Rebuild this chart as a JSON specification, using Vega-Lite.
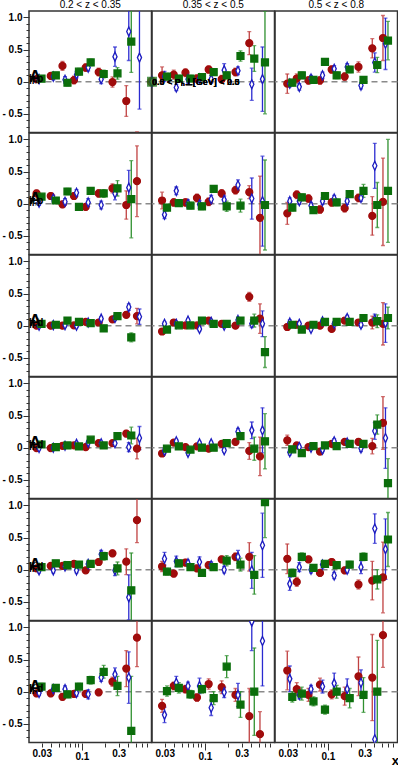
{
"$schema":"https://vega.github.io/schema/vega-lite/v6.json",
"padding":{"left":1,"right":2,"top":0,"bottom":0},
"bounds":"flush",
"title":{"text":"x","orient":"bottom","anchor":"end","fontSize":13,"fontWeight":"bold","font":"Liberation Sans","offset":-6},
"config":{"font":"Liberation Sans","mark":{"invalid":null},"view":{"stroke":"#333","strokeWidth":1.5},
"axis":{"labelFont":"Liberation Sans","labelFontWeight":"bold","labelFontSize":10,"domain":false,"grid":false,"tickColor":"#333","labelColor":"#000"}},
"data":{"values":[
{"p":1,"z":1,"lab":"π⁺","sub":"||,p"},{"p":2,"z":1,"lab":"π⁻","sub":"||,p"},{"p":3,"z":1,"lab":"π⁺","sub":"||,d"},{"p":4,"z":1,"lab":"π⁻","sub":"||,d"},{"p":5,"z":1,"lab":"K⁺","sub":"||,d"},{"p":6,"z":1,"lab":"K⁻","sub":"||,d"},
{"p":1,"z":2,"leg":"yes"},
{"p":1,"z":1,"s":"a","x":0.0257,"y":0.04,"e":0.05},{"p":1,"z":1,"s":"a","x":0.0393,"y":0.09,"e":0.05},{"p":1,"z":1,"s":"a","x":0.0558,"y":0.245,"e":0.07},{"p":1,"z":1,"s":"a","x":0.0787,"y":0.026,"e":0.06},{"p":1,"z":1,"s":"a","x":0.1117,"y":0.22,"e":0.06},{"p":1,"z":1,"s":"a","x":0.1648,"y":0.15,"e":0.06},{"p":1,"z":1,"s":"a","x":0.249,"y":-0.005,"e":0.08},{"p":1,"z":1,"s":"a","x":0.3762,"y":-0.3,"e":0.24},{"p":1,"z":1,"s":"a","x":0.518,"y":-1.2,"e":0.42},
{"p":1,"z":1,"s":"b","x":0.0277,"y":0.04,"e":0.04},{"p":1,"z":1,"s":"b","x":0.0424,"y":0.08,"e":0.05},{"p":1,"z":1,"s":"b","x":0.0602,"y":0.03,"e":0.05},{"p":1,"z":1,"s":"b","x":0.0849,"y":0.11,"e":0.05},{"p":1,"z":1,"s":"b","x":0.1204,"y":0.22,"e":0.05},{"p":1,"z":1,"s":"b","x":0.1776,"y":0.04,"e":0.07},{"p":1,"z":1,"s":"b","x":0.2683,"y":0.39,"e":0.15},{"p":1,"z":1,"s":"b","x":0.4055,"y":0.78,"e":0.45},{"p":1,"z":1,"s":"b","x":0.5583,"y":0.375,"e":0.8},
{"p":1,"z":1,"s":"c","x":0.0298,"y":0.047,"e":0.04},{"p":1,"z":1,"s":"c","x":0.0457,"y":0.1,"e":0.04},{"p":1,"z":1,"s":"c","x":0.0648,"y":-0.016,"e":0.05},{"p":1,"z":1,"s":"c","x":0.0914,"y":0.156,"e":0.05},{"p":1,"z":1,"s":"c","x":0.1297,"y":0.3,"e":0.05},{"p":1,"z":1,"s":"c","x":0.1914,"y":0.12,"e":0.06},{"p":1,"z":1,"s":"c","x":0.2892,"y":0.13,"e":0.09},{"p":1,"z":1,"s":"c","x":0.4369,"y":0.625,"e":0.48},
{"p":1,"z":2,"s":"a","x":0.0277,"y":0.1,"e":0.13},{"p":1,"z":2,"s":"a","x":0.0393,"y":0.11,"e":0.07},{"p":1,"z":2,"s":"a","x":0.0558,"y":0.14,"e":0.06},{"p":1,"z":2,"s":"a","x":0.0787,"y":0.05,"e":0.06},{"p":1,"z":2,"s":"a","x":0.1117,"y":0.19,"e":0.06},{"p":1,"z":2,"s":"a","x":0.1648,"y":0.04,"e":0.06},{"p":1,"z":2,"s":"a","x":0.249,"y":0.15,"e":0.06},{"p":1,"z":2,"s":"a","x":0.3762,"y":0.6,"e":0.18},
{"p":1,"z":2,"s":"b","x":0.0298,"y":0.08,"e":0.08},{"p":1,"z":2,"s":"b","x":0.0424,"y":-0.09,"e":0.05},{"p":1,"z":2,"s":"b","x":0.0602,"y":0.04,"e":0.06},{"p":1,"z":2,"s":"b","x":0.0849,"y":0.05,"e":0.06},{"p":1,"z":2,"s":"b","x":0.1204,"y":0.04,"e":0.06},{"p":1,"z":2,"s":"b","x":0.1776,"y":0.18,"e":0.1},{"p":1,"z":2,"s":"b","x":0.2683,"y":0.17,"e":0.06},{"p":1,"z":2,"s":"b","x":0.4055,"y":-0.04,"e":0.25},{"p":1,"z":2,"s":"b","x":0.5583,"y":0.04,"e":0.5},
{"p":1,"z":2,"s":"c","x":0.0321,"y":0.08,"e":0.05},{"p":1,"z":2,"s":"c","x":0.0457,"y":0.05,"e":0.05},{"p":1,"z":2,"s":"c","x":0.0648,"y":0.05,"e":0.05},{"p":1,"z":2,"s":"c","x":0.0914,"y":0.07,"e":0.05},{"p":1,"z":2,"s":"c","x":0.1297,"y":0.15,"e":0.05},{"p":1,"z":2,"s":"c","x":0.1914,"y":0.1,"e":0.05},{"p":1,"z":2,"s":"c","x":0.2892,"y":0.4,"e":0.08},{"p":1,"z":2,"s":"c","x":0.4369,"y":0.36,"e":0.2},{"p":1,"z":2,"s":"c","x":0.6016,"y":0.3,"e":0.8},
{"p":1,"z":3,"s":"a","x":0.0296,"y":-0.03,"e":0.15},{"p":1,"z":3,"s":"a","x":0.0393,"y":0.05,"e":0.07},{"p":1,"z":3,"s":"a","x":0.0558,"y":0.02,"e":0.06},{"p":1,"z":3,"s":"a","x":0.0787,"y":0.02,"e":0.06},{"p":1,"z":3,"s":"a","x":0.1117,"y":0.19,"e":0.06},{"p":1,"z":3,"s":"a","x":0.1648,"y":0.08,"e":0.06},{"p":1,"z":3,"s":"a","x":0.249,"y":0.23,"e":0.08},{"p":1,"z":3,"s":"a","x":0.3762,"y":0.52,"e":0.15},{"p":1,"z":3,"s":"a","x":0.518,"y":0.68,"e":0.35},
{"p":1,"z":3,"s":"b","x":0.0319,"y":-0.03,"e":0.05},{"p":1,"z":3,"s":"b","x":0.0424,"y":-0.08,"e":0.05},{"p":1,"z":3,"s":"b","x":0.0602,"y":0.05,"e":0.05},{"p":1,"z":3,"s":"b","x":0.0849,"y":0.1,"e":0.05},{"p":1,"z":3,"s":"b","x":0.1204,"y":0.2,"e":0.05},{"p":1,"z":3,"s":"b","x":0.1776,"y":0.23,"e":0.05},{"p":1,"z":3,"s":"b","x":0.2683,"y":-0.06,"e":0.05},{"p":1,"z":3,"s":"b","x":0.4055,"y":0.3,"e":0.15},{"p":1,"z":3,"s":"b","x":0.5583,"y":0.59,"e":0.4},
{"p":1,"z":3,"s":"c","x":0.0344,"y":-0.015,"e":0.05},{"p":1,"z":3,"s":"c","x":0.0457,"y":0.1,"e":0.05},{"p":1,"z":3,"s":"c","x":0.0648,"y":0.03,"e":0.05},{"p":1,"z":3,"s":"c","x":0.0914,"y":0.31,"e":0.05},{"p":1,"z":3,"s":"c","x":0.1297,"y":0.1,"e":0.05},{"p":1,"z":3,"s":"c","x":0.1914,"y":0.19,"e":0.05},{"p":1,"z":3,"s":"c","x":0.2892,"y":0.03,"e":0.05},{"p":1,"z":3,"s":"c","x":0.4369,"y":0.26,"e":0.12},{"p":1,"z":3,"s":"c","x":0.6016,"y":0.64,"e":0.3},
{"p":2,"z":1,"s":"a","x":0.0257,"y":0.16,"e":0.05},{"p":2,"z":1,"s":"a","x":0.0393,"y":0.12,"e":0.05},{"p":2,"z":1,"s":"a","x":0.0558,"y":-0.01,"e":0.05},{"p":2,"z":1,"s":"a","x":0.0787,"y":0.12,"e":0.05},{"p":2,"z":1,"s":"a","x":0.1117,"y":-0.05,"e":0.05},{"p":2,"z":1,"s":"a","x":0.1648,"y":0.16,"e":0.06},{"p":2,"z":1,"s":"a","x":0.249,"y":0.24,"e":0.07},{"p":2,"z":1,"s":"a","x":0.3762,"y":-0.02,"e":0.22},{"p":2,"z":1,"s":"a","x":0.518,"y":0.35,"e":0.55},
{"p":2,"z":1,"s":"b","x":0.0277,"y":0.015,"e":0.04},{"p":2,"z":1,"s":"b","x":0.0424,"y":0.08,"e":0.05},{"p":2,"z":1,"s":"b","x":0.0602,"y":0.03,"e":0.05},{"p":2,"z":1,"s":"b","x":0.0849,"y":0.17,"e":0.05},{"p":2,"z":1,"s":"b","x":0.1204,"y":0.02,"e":0.06},{"p":2,"z":1,"s":"b","x":0.1776,"y":-0.02,"e":0.06},{"p":2,"z":1,"s":"b","x":0.2683,"y":0.16,"e":0.1},{"p":2,"z":1,"s":"b","x":0.4055,"y":0.25,"e":0.27},
{"p":2,"z":1,"s":"c","x":0.0298,"y":0.11,"e":0.04},{"p":2,"z":1,"s":"c","x":0.0457,"y":0.05,"e":0.04},{"p":2,"z":1,"s":"c","x":0.0648,"y":0.19,"e":0.05},{"p":2,"z":1,"s":"c","x":0.0914,"y":-0.05,"e":0.05},{"p":2,"z":1,"s":"c","x":0.1297,"y":0.2,"e":0.05},{"p":2,"z":1,"s":"c","x":0.1914,"y":0.16,"e":0.06},{"p":2,"z":1,"s":"c","x":0.2892,"y":0.24,"e":0.12},{"p":2,"z":1,"s":"c","x":0.4369,"y":0.07,"e":0.6},
{"p":2,"z":2,"s":"a","x":0.0277,"y":0.05,"e":0.13},{"p":2,"z":2,"s":"a","x":0.0393,"y":0.02,"e":0.06},{"p":2,"z":2,"s":"a","x":0.0558,"y":0.02,"e":0.06},{"p":2,"z":2,"s":"a","x":0.0787,"y":0.09,"e":0.06},{"p":2,"z":2,"s":"a","x":0.1117,"y":0.03,"e":0.06},{"p":2,"z":2,"s":"a","x":0.1648,"y":0.16,"e":0.06},{"p":2,"z":2,"s":"a","x":0.249,"y":0.21,"e":0.06},{"p":2,"z":2,"s":"a","x":0.3762,"y":0.18,"e":0.1},{"p":2,"z":2,"s":"a","x":0.518,"y":-0.22,"e":0.65},
{"p":2,"z":2,"s":"b","x":0.0298,"y":-0.17,"e":0.06},{"p":2,"z":2,"s":"b","x":0.0424,"y":0.2,"e":0.06},{"p":2,"z":2,"s":"b","x":0.0602,"y":0.0,"e":0.06},{"p":2,"z":2,"s":"b","x":0.0849,"y":-0.01,"e":0.06},{"p":2,"z":2,"s":"b","x":0.1204,"y":0.07,"e":0.06},{"p":2,"z":2,"s":"b","x":0.1776,"y":0.06,"e":0.06},{"p":2,"z":2,"s":"b","x":0.2683,"y":0.29,"e":0.08},{"p":2,"z":2,"s":"b","x":0.4055,"y":0.08,"e":0.32},{"p":2,"z":2,"s":"b","x":0.5583,"y":0.04,"e":0.7},
{"p":2,"z":2,"s":"c","x":0.0321,"y":-0.06,"e":0.05},{"p":2,"z":2,"s":"c","x":0.0457,"y":0.01,"e":0.05},{"p":2,"z":2,"s":"c","x":0.0648,"y":-0.03,"e":0.05},{"p":2,"z":2,"s":"c","x":0.0914,"y":-0.04,"e":0.05},{"p":2,"z":2,"s":"c","x":0.1297,"y":0.23,"e":0.05},{"p":2,"z":2,"s":"c","x":0.1914,"y":-0.04,"e":0.08},{"p":2,"z":2,"s":"c","x":0.2892,"y":-0.03,"e":0.1},{"p":2,"z":2,"s":"c","x":0.6016,"y":-0.02,"e":0.7},
{"p":2,"z":3,"s":"a","x":0.0296,"y":-0.15,"e":0.17},{"p":2,"z":3,"s":"a","x":0.0393,"y":0.14,"e":0.06},{"p":2,"z":3,"s":"a","x":0.0558,"y":0.08,"e":0.06},{"p":2,"z":3,"s":"a","x":0.0787,"y":-0.09,"e":0.06},{"p":2,"z":3,"s":"a","x":0.1117,"y":0.02,"e":0.06},{"p":2,"z":3,"s":"a","x":0.1648,"y":-0.07,"e":0.06},{"p":2,"z":3,"s":"a","x":0.249,"y":0.09,"e":0.06},{"p":2,"z":3,"s":"a","x":0.3762,"y":-0.19,"e":0.3},{"p":2,"z":3,"s":"a","x":0.518,"y":0.03,"e":0.68},
{"p":2,"z":3,"s":"b","x":0.0319,"y":0.04,"e":0.05},{"p":2,"z":3,"s":"b","x":0.0424,"y":0.04,"e":0.05},{"p":2,"z":3,"s":"b","x":0.0602,"y":-0.03,"e":0.05},{"p":2,"z":3,"s":"b","x":0.0849,"y":0.04,"e":0.05},{"p":2,"z":3,"s":"b","x":0.1204,"y":0.08,"e":0.05},{"p":2,"z":3,"s":"b","x":0.1776,"y":0.04,"e":0.05},{"p":2,"z":3,"s":"b","x":0.2683,"y":0.09,"e":0.05},{"p":2,"z":3,"s":"b","x":0.4055,"y":0.59,"e":0.35},
{"p":2,"z":3,"s":"c","x":0.0344,"y":-0.06,"e":0.05},{"p":2,"z":3,"s":"c","x":0.0457,"y":0.1,"e":0.05},{"p":2,"z":3,"s":"c","x":0.0648,"y":-0.1,"e":0.05},{"p":2,"z":3,"s":"c","x":0.0914,"y":0.12,"e":0.05},{"p":2,"z":3,"s":"c","x":0.1297,"y":0.02,"e":0.05},{"p":2,"z":3,"s":"c","x":0.1914,"y":0.15,"e":0.05},{"p":2,"z":3,"s":"c","x":0.2892,"y":0.2,"e":0.1},{"p":2,"z":3,"s":"c","x":0.4369,"y":-0.02,"e":0.35},{"p":2,"z":3,"s":"c","x":0.6016,"y":0.2,"e":0.8},
{"p":3,"z":1,"s":"a","x":0.0257,"y":0,"e":0.03},{"p":3,"z":1,"s":"a","x":0.0393,"y":0,"e":0.03},{"p":3,"z":1,"s":"a","x":0.0558,"y":0,"e":0.03},{"p":3,"z":1,"s":"a","x":0.0787,"y":0.005,"e":0.03},{"p":3,"z":1,"s":"a","x":0.1117,"y":0.06,"e":0.03},{"p":3,"z":1,"s":"a","x":0.1648,"y":0.05,"e":0.03},{"p":3,"z":1,"s":"a","x":0.249,"y":0.1,"e":0.03},{"p":3,"z":1,"s":"a","x":0.3762,"y":0.17,"e":0.04},{"p":3,"z":1,"s":"a","x":0.518,"y":0.15,"e":0.12},
{"p":3,"z":1,"s":"b","x":0.0277,"y":0,"e":0.03},{"p":3,"z":1,"s":"b","x":0.0424,"y":0.01,"e":0.03},{"p":3,"z":1,"s":"b","x":0.0602,"y":0.01,"e":0.03},{"p":3,"z":1,"s":"b","x":0.0849,"y":0,"e":0.03},{"p":3,"z":1,"s":"b","x":0.1204,"y":0.05,"e":0.03},{"p":3,"z":1,"s":"b","x":0.1776,"y":0.11,"e":0.03},{"p":3,"z":1,"s":"b","x":0.2683,"y":0.12,"e":0.04},{"p":3,"z":1,"s":"b","x":0.4055,"y":0.29,"e":0.05},{"p":3,"z":1,"s":"b","x":0.5583,"y":0.14,"e":0.12},
{"p":3,"z":1,"s":"c","x":0.0298,"y":0.03,"e":0.03},{"p":3,"z":1,"s":"c","x":0.0457,"y":0.015,"e":0.03},{"p":3,"z":1,"s":"c","x":0.0648,"y":0.08,"e":0.03},{"p":3,"z":1,"s":"c","x":0.0914,"y":0.06,"e":0.03},{"p":3,"z":1,"s":"c","x":0.1297,"y":0.04,"e":0.03},{"p":3,"z":1,"s":"c","x":0.1914,"y":-0.04,"e":0.03},{"p":3,"z":1,"s":"c","x":0.2892,"y":0.15,"e":0.04},{"p":3,"z":1,"s":"c","x":0.4369,"y":-0.18,"e":0.07},
{"p":3,"z":2,"s":"a","x":0.0277,"y":-0.09,"e":0.03},{"p":3,"z":2,"s":"a","x":0.0393,"y":0.05,"e":0.03},{"p":3,"z":2,"s":"a","x":0.0558,"y":0.005,"e":0.03},{"p":3,"z":2,"s":"a","x":0.0787,"y":0.005,"e":0.03},{"p":3,"z":2,"s":"a","x":0.1117,"y":0.08,"e":0.03},{"p":3,"z":2,"s":"a","x":0.1648,"y":0.03,"e":0.03},{"p":3,"z":2,"s":"a","x":0.249,"y":0,"e":0.03},{"p":3,"z":2,"s":"a","x":0.3762,"y":0.45,"e":0.07},{"p":3,"z":2,"s":"a","x":0.518,"y":0.11,"e":0.23},
{"p":3,"z":2,"s":"b","x":0.0298,"y":0.03,"e":0.03},{"p":3,"z":2,"s":"b","x":0.0424,"y":0.03,"e":0.03},{"p":3,"z":2,"s":"b","x":0.0602,"y":0.08,"e":0.03},{"p":3,"z":2,"s":"b","x":0.0849,"y":-0.05,"e":0.03},{"p":3,"z":2,"s":"b","x":0.1204,"y":0.06,"e":0.03},{"p":3,"z":2,"s":"b","x":0.1776,"y":0,"e":0.03},{"p":3,"z":2,"s":"b","x":0.2683,"y":0.09,"e":0.04},{"p":3,"z":2,"s":"b","x":0.4055,"y":0.03,"e":0.06},{"p":3,"z":2,"s":"b","x":0.5583,"y":0.03,"e":0.2},
{"p":3,"z":2,"s":"c","x":0.0321,"y":-0.06,"e":0.03},{"p":3,"z":2,"s":"c","x":0.0457,"y":0.005,"e":0.03},{"p":3,"z":2,"s":"c","x":0.0648,"y":0.005,"e":0.03},{"p":3,"z":2,"s":"c","x":0.0914,"y":0.08,"e":0.03},{"p":3,"z":2,"s":"c","x":0.1297,"y":0.03,"e":0.03},{"p":3,"z":2,"s":"c","x":0.1914,"y":0.03,"e":0.03},{"p":3,"z":2,"s":"c","x":0.2892,"y":0.08,"e":0.04},{"p":3,"z":2,"s":"c","x":0.4369,"y":0.08,"e":0.1},{"p":3,"z":2,"s":"c","x":0.6016,"y":-0.41,"e":0.24},
{"p":3,"z":3,"s":"a","x":0.0296,"y":-0.02,"e":0.05},{"p":3,"z":3,"s":"a","x":0.0393,"y":0.015,"e":0.03},{"p":3,"z":3,"s":"a","x":0.0558,"y":0,"e":0.03},{"p":3,"z":3,"s":"a","x":0.0787,"y":0,"e":0.03},{"p":3,"z":3,"s":"a","x":0.1117,"y":-0.05,"e":0.03},{"p":3,"z":3,"s":"a","x":0.1648,"y":0.08,"e":0.03},{"p":3,"z":3,"s":"a","x":0.249,"y":0.05,"e":0.04},{"p":3,"z":3,"s":"a","x":0.3762,"y":0.05,"e":0.1},{"p":3,"z":3,"s":"a","x":0.518,"y":0.03,"e":0.33},
{"p":3,"z":3,"s":"b","x":0.0319,"y":0.05,"e":0.04},{"p":3,"z":3,"s":"b","x":0.0424,"y":0.03,"e":0.03},{"p":3,"z":3,"s":"b","x":0.0602,"y":-0.05,"e":0.03},{"p":3,"z":3,"s":"b","x":0.0849,"y":0.07,"e":0.03},{"p":3,"z":3,"s":"b","x":0.1204,"y":0.03,"e":0.03},{"p":3,"z":3,"s":"b","x":0.1776,"y":0.12,"e":0.04},{"p":3,"z":3,"s":"b","x":0.2683,"y":0.015,"e":0.04},{"p":3,"z":3,"s":"b","x":0.4055,"y":0.1,"e":0.08},{"p":3,"z":3,"s":"b","x":0.5583,"y":0.04,"e":0.3},
{"p":3,"z":3,"s":"c","x":0.0344,"y":0.015,"e":0.03},{"p":3,"z":3,"s":"c","x":0.0457,"y":-0.06,"e":0.03},{"p":3,"z":3,"s":"c","x":0.0648,"y":0.015,"e":0.03},{"p":3,"z":3,"s":"c","x":0.0914,"y":0.06,"e":0.03},{"p":3,"z":3,"s":"c","x":0.1297,"y":0.06,"e":0.03},{"p":3,"z":3,"s":"c","x":0.1914,"y":0.06,"e":0.03},{"p":3,"z":3,"s":"c","x":0.2892,"y":0.12,"e":0.04},{"p":3,"z":3,"s":"c","x":0.4369,"y":0.07,"e":0.1},{"p":3,"z":3,"s":"c","x":0.6016,"y":0.12,"e":0.17},
{"p":4,"z":1,"s":"a","x":0.0257,"y":-0.005,"e":0.03},{"p":4,"z":1,"s":"a","x":0.0393,"y":-0.005,"e":0.03},{"p":4,"z":1,"s":"a","x":0.0558,"y":0.03,"e":0.03},{"p":4,"z":1,"s":"a","x":0.0787,"y":0.035,"e":0.03},{"p":4,"z":1,"s":"a","x":0.1117,"y":0.01,"e":0.03},{"p":4,"z":1,"s":"a","x":0.1648,"y":0.07,"e":0.03},{"p":4,"z":1,"s":"a","x":0.249,"y":0.07,"e":0.03},{"p":4,"z":1,"s":"a","x":0.3762,"y":0.22,"e":0.05},{"p":4,"z":1,"s":"a","x":0.518,"y":-0.015,"e":0.16},
{"p":4,"z":1,"s":"b","x":0.0277,"y":-0.005,"e":0.03},{"p":4,"z":1,"s":"b","x":0.0424,"y":0,"e":0.03},{"p":4,"z":1,"s":"b","x":0.0602,"y":0.03,"e":0.03},{"p":4,"z":1,"s":"b","x":0.0849,"y":0.06,"e":0.03},{"p":4,"z":1,"s":"b","x":0.1204,"y":0.08,"e":0.03},{"p":4,"z":1,"s":"b","x":0.1776,"y":0.07,"e":0.03},{"p":4,"z":1,"s":"b","x":0.2683,"y":0.07,"e":0.03},{"p":4,"z":1,"s":"b","x":0.4055,"y":0.01,"e":0.07},{"p":4,"z":1,"s":"b","x":0.5583,"y":0.15,"e":0.18},
{"p":4,"z":1,"s":"c","x":0.0298,"y":0.05,"e":0.03},{"p":4,"z":1,"s":"c","x":0.0457,"y":0.01,"e":0.03},{"p":4,"z":1,"s":"c","x":0.0648,"y":0.035,"e":0.03},{"p":4,"z":1,"s":"c","x":0.0914,"y":0.02,"e":0.03},{"p":4,"z":1,"s":"c","x":0.1297,"y":0.125,"e":0.03},{"p":4,"z":1,"s":"c","x":0.1914,"y":0.035,"e":0.03},{"p":4,"z":1,"s":"c","x":0.2892,"y":0.18,"e":0.04},{"p":4,"z":1,"s":"c","x":0.4369,"y":0.19,"e":0.13},
{"p":4,"z":2,"s":"a","x":0.0277,"y":-0.09,"e":0.04},{"p":4,"z":2,"s":"a","x":0.0393,"y":0.08,"e":0.03},{"p":4,"z":2,"s":"a","x":0.0558,"y":0.01,"e":0.03},{"p":4,"z":2,"s":"a","x":0.0787,"y":0.02,"e":0.03},{"p":4,"z":2,"s":"a","x":0.1117,"y":-0.015,"e":0.03},{"p":4,"z":2,"s":"a","x":0.1648,"y":0.06,"e":0.03},{"p":4,"z":2,"s":"a","x":0.249,"y":0.09,"e":0.04},{"p":4,"z":2,"s":"a","x":0.3762,"y":-0.05,"e":0.13},{"p":4,"z":2,"s":"a","x":0.518,"y":-0.135,"e":0.3},
{"p":4,"z":2,"s":"b","x":0.0298,"y":-0.05,"e":0.04},{"p":4,"z":2,"s":"b","x":0.0424,"y":0.1,"e":0.03},{"p":4,"z":2,"s":"b","x":0.0602,"y":-0.08,"e":0.03},{"p":4,"z":2,"s":"b","x":0.0849,"y":0.07,"e":0.03},{"p":4,"z":2,"s":"b","x":0.1204,"y":0.07,"e":0.03},{"p":4,"z":2,"s":"b","x":0.1776,"y":-0.04,"e":0.03},{"p":4,"z":2,"s":"b","x":0.2683,"y":0.25,"e":0.05},{"p":4,"z":2,"s":"b","x":0.4055,"y":0.27,"e":0.13},{"p":4,"z":2,"s":"b","x":0.5583,"y":0.27,"e":0.35},
{"p":4,"z":2,"s":"c","x":0.0321,"y":-0.015,"e":0.04},{"p":4,"z":2,"s":"c","x":0.0457,"y":0.02,"e":0.03},{"p":4,"z":2,"s":"c","x":0.0648,"y":-0.03,"e":0.03},{"p":4,"z":2,"s":"c","x":0.0914,"y":0,"e":0.03},{"p":4,"z":2,"s":"c","x":0.1297,"y":0,"e":0.03},{"p":4,"z":2,"s":"c","x":0.1914,"y":0.07,"e":0.03},{"p":4,"z":2,"s":"c","x":0.2892,"y":0.18,"e":0.05},{"p":4,"z":2,"s":"c","x":0.4369,"y":-0.015,"e":0.18},{"p":4,"z":2,"s":"c","x":0.6016,"y":0.1,"e":0.43},
{"p":4,"z":3,"s":"a","x":0.0296,"y":0.115,"e":0.08},{"p":4,"z":3,"s":"a","x":0.0393,"y":0.035,"e":0.03},{"p":4,"z":3,"s":"a","x":0.0558,"y":0.01,"e":0.03},{"p":4,"z":3,"s":"a","x":0.0787,"y":-0.06,"e":0.03},{"p":4,"z":3,"s":"a","x":0.1117,"y":0.06,"e":0.03},{"p":4,"z":3,"s":"a","x":0.1648,"y":0.09,"e":0.04},{"p":4,"z":3,"s":"a","x":0.249,"y":0.09,"e":0.05},{"p":4,"z":3,"s":"a","x":0.3762,"y":0.025,"e":0.12},{"p":4,"z":3,"s":"a","x":0.518,"y":0.385,"e":0.41},
{"p":4,"z":3,"s":"b","x":0.0319,"y":-0.07,"e":0.04},{"p":4,"z":3,"s":"b","x":0.0424,"y":0.01,"e":0.03},{"p":4,"z":3,"s":"b","x":0.0602,"y":0,"e":0.03},{"p":4,"z":3,"s":"b","x":0.0849,"y":-0.03,"e":0.03},{"p":4,"z":3,"s":"b","x":0.1204,"y":0.1,"e":0.04},{"p":4,"z":3,"s":"b","x":0.1776,"y":0.08,"e":0.04},{"p":4,"z":3,"s":"b","x":0.2683,"y":-0.01,"e":0.05},{"p":4,"z":3,"s":"b","x":0.4055,"y":0.26,"e":0.13},{"p":4,"z":3,"s":"b","x":0.5583,"y":0.15,"e":0.47},
{"p":4,"z":3,"s":"c","x":0.0344,"y":-0.025,"e":0.04},{"p":4,"z":3,"s":"c","x":0.0457,"y":-0.085,"e":0.03},{"p":4,"z":3,"s":"c","x":0.0648,"y":0.025,"e":0.03},{"p":4,"z":3,"s":"c","x":0.0914,"y":0.035,"e":0.03},{"p":4,"z":3,"s":"c","x":0.1297,"y":0.025,"e":0.04},{"p":4,"z":3,"s":"c","x":0.1914,"y":0.06,"e":0.04},{"p":4,"z":3,"s":"c","x":0.2892,"y":0.06,"e":0.05},{"p":4,"z":3,"s":"c","x":0.4369,"y":0.36,"e":0.15},{"p":4,"z":3,"s":"c","x":0.6016,"y":-0.55,"e":0.38},
{"p":5,"z":1,"s":"a","x":0.0257,"y":0.02,"e":0.04},{"p":5,"z":1,"s":"a","x":0.0393,"y":0.06,"e":0.04},{"p":5,"z":1,"s":"a","x":0.0558,"y":0.06,"e":0.04},{"p":5,"z":1,"s":"a","x":0.0787,"y":0.09,"e":0.04},{"p":5,"z":1,"s":"a","x":0.1117,"y":-0.01,"e":0.04},{"p":5,"z":1,"s":"a","x":0.1648,"y":0.12,"e":0.04},{"p":5,"z":1,"s":"a","x":0.249,"y":0.255,"e":0.05},{"p":5,"z":1,"s":"a","x":0.3762,"y":0.125,"e":0.2},{"p":5,"z":1,"s":"a","x":0.518,"y":0.77,"e":0.35},
{"p":5,"z":1,"s":"b","x":0.0277,"y":-0.01,"e":0.04},{"p":5,"z":1,"s":"b","x":0.0424,"y":-0.01,"e":0.04},{"p":5,"z":1,"s":"b","x":0.0602,"y":0.05,"e":0.04},{"p":5,"z":1,"s":"b","x":0.0849,"y":-0.01,"e":0.04},{"p":5,"z":1,"s":"b","x":0.1204,"y":0.09,"e":0.04},{"p":5,"z":1,"s":"b","x":0.1776,"y":0.24,"e":0.06},{"p":5,"z":1,"s":"b","x":0.2683,"y":-0.01,"e":0.08},{"p":5,"z":1,"s":"b","x":0.4055,"y":-0.43,"e":0.35},
{"p":5,"z":1,"s":"c","x":0.0298,"y":0.04,"e":0.04},{"p":5,"z":1,"s":"c","x":0.0457,"y":0.1,"e":0.04},{"p":5,"z":1,"s":"c","x":0.0648,"y":0.07,"e":0.04},{"p":5,"z":1,"s":"c","x":0.0914,"y":0.08,"e":0.04},{"p":5,"z":1,"s":"c","x":0.1297,"y":0.09,"e":0.04},{"p":5,"z":1,"s":"c","x":0.1914,"y":0.21,"e":0.06},{"p":5,"z":1,"s":"c","x":0.2892,"y":0.02,"e":0.1},{"p":5,"z":1,"s":"c","x":0.4369,"y":-0.32,"e":0.58},
{"p":5,"z":2,"s":"a","x":0.0277,"y":0.05,"e":0.08},{"p":5,"z":2,"s":"a","x":0.0393,"y":-0.06,"e":0.05},{"p":5,"z":2,"s":"a","x":0.0558,"y":0.11,"e":0.05},{"p":5,"z":2,"s":"a","x":0.0787,"y":0.02,"e":0.05},{"p":5,"z":2,"s":"a","x":0.1117,"y":0.07,"e":0.05},{"p":5,"z":2,"s":"a","x":0.1648,"y":0.16,"e":0.05},{"p":5,"z":2,"s":"a","x":0.249,"y":0.2,"e":0.06},{"p":5,"z":2,"s":"a","x":0.3762,"y":0.2,"e":0.22},
{"p":5,"z":2,"s":"b","x":0.0298,"y":0.17,"e":0.1},{"p":5,"z":2,"s":"b","x":0.0424,"y":0.13,"e":0.08},{"p":5,"z":2,"s":"b","x":0.0602,"y":0.1,"e":0.05},{"p":5,"z":2,"s":"b","x":0.0849,"y":0.12,"e":0.08},{"p":5,"z":2,"s":"b","x":0.1204,"y":0.07,"e":0.05},{"p":5,"z":2,"s":"b","x":0.1776,"y":0,"e":0.05},{"p":5,"z":2,"s":"b","x":0.2683,"y":0.2,"e":0.1},{"p":5,"z":2,"s":"b","x":0.4055,"y":-0.01,"e":0.28},{"p":5,"z":2,"s":"b","x":0.5583,"y":0.38,"e":0.5},
{"p":5,"z":2,"s":"c","x":0.0321,"y":-0.03,"e":0.05},{"p":5,"z":2,"s":"c","x":0.0457,"y":0.1,"e":0.05},{"p":5,"z":2,"s":"c","x":0.0648,"y":0.04,"e":0.05},{"p":5,"z":2,"s":"c","x":0.0914,"y":-0.05,"e":0.05},{"p":5,"z":2,"s":"c","x":0.1297,"y":0.04,"e":0.05},{"p":5,"z":2,"s":"c","x":0.1914,"y":0.14,"e":0.08},{"p":5,"z":2,"s":"c","x":0.2892,"y":0.08,"e":0.1},{"p":5,"z":2,"s":"c","x":0.4369,"y":-0.08,"e":0.3},{"p":5,"z":2,"s":"c","x":0.6016,"y":1.05,"e":0.55},
{"p":5,"z":3,"s":"a","x":0.0296,"y":0.17,"e":0.23},{"p":5,"z":3,"s":"a","x":0.0393,"y":-0.19,"e":0.07},{"p":5,"z":3,"s":"a","x":0.0558,"y":0.16,"e":0.05},{"p":5,"z":3,"s":"a","x":0.0787,"y":-0.05,"e":0.05},{"p":5,"z":3,"s":"a","x":0.1117,"y":0.12,"e":0.05},{"p":5,"z":3,"s":"a","x":0.1648,"y":-0.01,"e":0.05},{"p":5,"z":3,"s":"a","x":0.249,"y":-0.23,"e":0.07},{"p":5,"z":3,"s":"a","x":0.3762,"y":-0.17,"e":0.3},{"p":5,"z":3,"s":"a","x":0.518,"y":-0.12,"e":0.55},
{"p":5,"z":3,"s":"b","x":0.0319,"y":-0.22,"e":0.1},{"p":5,"z":3,"s":"b","x":0.0424,"y":0.04,"e":0.07},{"p":5,"z":3,"s":"b","x":0.0602,"y":0,"e":0.05},{"p":5,"z":3,"s":"b","x":0.0849,"y":0.08,"e":0.05},{"p":5,"z":3,"s":"b","x":0.1204,"y":-0.09,"e":0.05},{"p":5,"z":3,"s":"b","x":0.1776,"y":0,"e":0.05},{"p":5,"z":3,"s":"b","x":0.2683,"y":0.04,"e":0.1},{"p":5,"z":3,"s":"b","x":0.4055,"y":0.64,"e":0.23},{"p":5,"z":3,"s":"b","x":0.5583,"y":0.32,"e":0.47},
{"p":5,"z":3,"s":"c","x":0.0344,"y":-0.05,"e":0.06},{"p":5,"z":3,"s":"c","x":0.0457,"y":0.2,"e":0.06},{"p":5,"z":3,"s":"c","x":0.0648,"y":0.03,"e":0.05},{"p":5,"z":3,"s":"c","x":0.0914,"y":0.09,"e":0.05},{"p":5,"z":3,"s":"c","x":0.1297,"y":0.07,"e":0.05},{"p":5,"z":3,"s":"c","x":0.1914,"y":0.08,"e":0.05},{"p":5,"z":3,"s":"c","x":0.2892,"y":0.2,"e":0.06},{"p":5,"z":3,"s":"c","x":0.4369,"y":-0.15,"e":0.15},{"p":5,"z":3,"s":"c","x":0.6016,"y":0.47,"e":0.42},
{"p":6,"z":1,"s":"a","x":0.0257,"y":-0.025,"e":0.05},{"p":6,"z":1,"s":"a","x":0.0393,"y":-0.025,"e":0.05},{"p":6,"z":1,"s":"a","x":0.0558,"y":-0.08,"e":0.05},{"p":6,"z":1,"s":"a","x":0.0787,"y":-0.035,"e":0.05},{"p":6,"z":1,"s":"a","x":0.1117,"y":-0.035,"e":0.05},{"p":6,"z":1,"s":"a","x":0.1648,"y":-0.01,"e":0.05},{"p":6,"z":1,"s":"a","x":0.249,"y":0.155,"e":0.07},{"p":6,"z":1,"s":"a","x":0.3762,"y":0.36,"e":0.28},{"p":6,"z":1,"s":"a","x":0.518,"y":0.84,"e":0.45},
{"p":6,"z":1,"s":"b","x":0.0277,"y":-0.02,"e":0.04},{"p":6,"z":1,"s":"b","x":0.0424,"y":0.04,"e":0.05},{"p":6,"z":1,"s":"b","x":0.0602,"y":0.04,"e":0.05},{"p":6,"z":1,"s":"b","x":0.0849,"y":-0.02,"e":0.05},{"p":6,"z":1,"s":"b","x":0.1204,"y":-0.04,"e":0.07},{"p":6,"z":1,"s":"b","x":0.1776,"y":0.22,"e":0.06},{"p":6,"z":1,"s":"b","x":0.2683,"y":0.27,"e":0.1},{"p":6,"z":1,"s":"b","x":0.4055,"y":0.22,"e":0.4},
{"p":6,"z":1,"s":"c","x":0.0298,"y":0.08,"e":0.05},{"p":6,"z":1,"s":"c","x":0.0457,"y":0.06,"e":0.05},{"p":6,"z":1,"s":"c","x":0.0648,"y":-0.04,"e":0.05},{"p":6,"z":1,"s":"c","x":0.0914,"y":0.08,"e":0.05},{"p":6,"z":1,"s":"c","x":0.1297,"y":0.18,"e":0.06},{"p":6,"z":1,"s":"c","x":0.1914,"y":0.31,"e":0.1},{"p":6,"z":1,"s":"c","x":0.2892,"y":0.09,"e":0.15},{"p":6,"z":1,"s":"c","x":0.4369,"y":-0.61,"e":0.85},
{"p":6,"z":2,"s":"a","x":0.0277,"y":-0.22,"e":0.1},{"p":6,"z":2,"s":"a","x":0.0393,"y":0.09,"e":0.06},{"p":6,"z":2,"s":"a","x":0.0558,"y":0.04,"e":0.06},{"p":6,"z":2,"s":"a","x":0.0787,"y":-0.09,"e":0.06},{"p":6,"z":2,"s":"a","x":0.1117,"y":0.12,"e":0.08},{"p":6,"z":2,"s":"a","x":0.1648,"y":0.07,"e":0.1},{"p":6,"z":2,"s":"a","x":0.249,"y":-0.05,"e":0.1},{"p":6,"z":2,"s":"a","x":0.3762,"y":-0.38,"e":0.43},{"p":6,"z":2,"s":"a","x":0.518,"y":-0.66,"e":0.35},
{"p":6,"z":2,"s":"b","x":0.0298,"y":-0.36,"e":0.12},{"p":6,"z":2,"s":"b","x":0.0424,"y":0.14,"e":0.1},{"p":6,"z":2,"s":"b","x":0.0602,"y":0.09,"e":0.06},{"p":6,"z":2,"s":"b","x":0.0849,"y":0.09,"e":0.12},{"p":6,"z":2,"s":"b","x":0.1204,"y":-0.25,"e":0.12},{"p":6,"z":2,"s":"b","x":0.1776,"y":-0.01,"e":0.08},{"p":6,"z":2,"s":"b","x":0.2683,"y":-0.05,"e":0.18},{"p":6,"z":2,"s":"b","x":0.4055,"y":1.09,"e":0.45},{"p":6,"z":2,"s":"b","x":0.5583,"y":0.79,"e":0.7},
{"p":6,"z":2,"s":"c","x":0.0321,"y":0.01,"e":0.08},{"p":6,"z":2,"s":"c","x":0.0457,"y":0.06,"e":0.08},{"p":6,"z":2,"s":"c","x":0.0648,"y":-0.04,"e":0.06},{"p":6,"z":2,"s":"c","x":0.0914,"y":0.04,"e":0.06},{"p":6,"z":2,"s":"c","x":0.1297,"y":-0.1,"e":0.1},{"p":6,"z":2,"s":"c","x":0.1914,"y":0.39,"e":0.17},{"p":6,"z":2,"s":"c","x":0.2892,"y":-0.2,"e":0.2},{"p":6,"z":2,"s":"c","x":0.4369,"y":0,"e":0.68},
{"p":6,"z":3,"s":"a","x":0.0296,"y":0.33,"e":0.3},{"p":6,"z":3,"s":"a","x":0.0393,"y":0.04,"e":0.1},{"p":6,"z":3,"s":"a","x":0.0558,"y":-0.05,"e":0.1},{"p":6,"z":3,"s":"a","x":0.0787,"y":0.11,"e":0.1},{"p":6,"z":3,"s":"a","x":0.1117,"y":-0.04,"e":0.07},{"p":6,"z":3,"s":"a","x":0.1648,"y":-0.07,"e":0.14},{"p":6,"z":3,"s":"a","x":0.249,"y":0.24,"e":0.3},{"p":6,"z":3,"s":"a","x":0.3762,"y":0.22,"e":0.67},{"p":6,"z":3,"s":"a","x":0.518,"y":0.88,"e":0.5},
{"p":6,"z":3,"s":"b","x":0.0319,"y":0.2,"e":0.2},{"p":6,"z":3,"s":"b","x":0.0424,"y":-0.05,"e":0.06},{"p":6,"z":3,"s":"b","x":0.0602,"y":0.04,"e":0.06},{"p":6,"z":3,"s":"b","x":0.0849,"y":0.08,"e":0.1},{"p":6,"z":3,"s":"b","x":0.1204,"y":0.13,"e":0.16},{"p":6,"z":3,"s":"b","x":0.1776,"y":0.04,"e":0.16},{"p":6,"z":3,"s":"b","x":0.2683,"y":0.14,"e":0.2},{"p":6,"z":3,"s":"b","x":0.4055,"y":-0.74,"e":0.75},
{"p":6,"z":3,"s":"c","x":0.0344,"y":-0.08,"e":0.08},{"p":6,"z":3,"s":"c","x":0.0457,"y":-0.03,"e":0.1},{"p":6,"z":3,"s":"c","x":0.0648,"y":-0.15,"e":0.07},{"p":6,"z":3,"s":"c","x":0.0914,"y":-0.28,"e":0.07},{"p":6,"z":3,"s":"c","x":0.1297,"y":0,"e":0.1},{"p":6,"z":3,"s":"c","x":0.1914,"y":-0.1,"e":0.15},{"p":6,"z":3,"s":"c","x":0.2892,"y":-0.05,"e":0.27},{"p":6,"z":3,"s":"c","x":0.4369,"y":0,"e":0.8}
]},
"facet":{
"row":{"field":"p","type":"ordinal","header":{"labels":false,"title":null}},
"column":{"field":"z","type":"ordinal","header":{"title":null,"labelFont":"Liberation Sans","labelFontSize":10,"labelPadding":1,"labelExpr":"datum.value == 1 ? '0.2 < z < 0.35' : datum.value == 2 ? '0.35 < z < 0.5' : '0.5 < z < 0.8'"}}
},
"spacing":{"row":0,"column":0},
"resolve":{"scale":{"x":"shared","y":"shared"}},
"spec":{
"width":122.5,"height":121.5,
"encoding":{
"x":{"field":"x","type":"quantitative","scale":{"type":"log","domain":[0.0205,0.8],"nice":false},
"axis":{"title":null,"values":[0.03,0.04,0.05,0.06,0.07,0.08,0.09,0.1,0.2,0.3,0.4,0.5,0.6,0.7],"labelExpr":"datum.value == 0.03 ? '0.03' : datum.value == 0.1 ? '0.1' : datum.value == 0.3 ? '0.3' : ''","tickSize":{"condition":{"test":"datum.value == 0.1","value":7},"value":4},"labelPadding":1,"labelFlush":false}},
"y":{"field":"y","type":"quantitative","scale":{"domain":[-0.79,1.1],"nice":false,"zero":false},
"axis":{"title":null,"values":[-0.7,-0.6,-0.5,-0.4,-0.3,-0.2,-0.1,0,0.1,0.2,0.3,0.4,0.5,0.6,0.7,0.8,0.9,1],"labelExpr":"datum.value == 1 ? '1.0' : datum.value == 0.5 ? '0.5' : datum.value == 0 ? '0' : datum.value == -0.5 ? '- 0.5' : ''","tickSize":{"condition":{"test":"datum.value == 1 || datum.value == 0.5 || datum.value == 0 || datum.value == -0.5","value":6},"value":3},"labelPadding":1}}
},
"layer":[
{"transform":[{"filter":"datum.s == 'a' && datum.x < 0.03"}],
 "mark":{"type":"rule","strokeDash":[6,4],"color":"#8a8a8a","strokeWidth":1.6},
 "encoding":{"x":null,"y":{"datum":0}}},
{"transform":[{"filter":"isValid(datum.s)"}],
 "mark":{"type":"errorbar","ticks":{"size":4},"thickness":1.3,"clip":true},
 "encoding":{"yError":{"field":"e"},
 "color":{"field":"s","type":"nominal","scale":{"domain":["a","b","c"],"range":["#c04040","#2a2ad0","#2f902f"]},"legend":null}}},
{"transform":[{"filter":"isValid(datum.s)"}],
 "mark":{"type":"point","filled":true,"size":48,"strokeWidth":1.3,"opacity":1,"clip":true},
 "encoding":{
 "shape":{"field":"s","type":"nominal","scale":{"domain":["a","b","c"],"range":["circle","M0,-1.3L0.6,0L0,1.3L-0.6,0Z","square"]},"legend":null},
 "fill":{"field":"s","type":"nominal","scale":{"domain":["a","b","c"],"range":["#a00c0c","#ffffff","#0b6e0b"]},"legend":null},
 "stroke":{"field":"s","type":"nominal","scale":{"domain":["a","b","c"],"range":["#a00c0c","#1c1cc0","#0b6e0b"]},"legend":null}}},
{"transform":[{"filter":"isValid(datum.lab)"}],
 "mark":{"type":"text","text":"A","fontSize":17,"fontWeight":"bold","align":"left","baseline":"alphabetic","font":"Liberation Sans"},
 "encoding":{"x":{"datum":0.0268,"type":"quantitative"},"y":{"datum":0.77,"type":"quantitative"}}},
{"transform":[{"filter":"isValid(datum.lab)"}],
 "mark":{"type":"text","fontSize":11,"align":"left","baseline":"alphabetic","font":"DejaVu Sans"},
 "encoding":{"x":{"datum":0.0384,"type":"quantitative"},"y":{"datum":0.88,"type":"quantitative"},"text":{"field":"lab"}}},
{"transform":[{"filter":"isValid(datum.lab)"}],
 "mark":{"type":"text","fontSize":10,"fontWeight":"bold","align":"left","baseline":"alphabetic","font":"Liberation Sans"},
 "encoding":{"x":{"datum":0.0384,"type":"quantitative"},"y":{"datum":0.745,"type":"quantitative"},"text":{"field":"sub"}}},
{"transform":[{"filter":"isValid(datum.leg)"}],
 "mark":{"type":"point","shape":"circle","filled":true,"fill":"#a00c0c","stroke":"#a00c0c","size":75,"strokeWidth":1.3},
 "encoding":{"x":{"datum":0.0277,"type":"quantitative"},"y":{"datum":1.0,"type":"quantitative"}}},
{"transform":[{"filter":"isValid(datum.leg)"}],
 "mark":{"type":"point","shape":"M0,-1.3L0.6,0L0,1.3L-0.6,0Z","filled":true,"fill":"#ffffff","stroke":"#1c1cc0","size":60,"strokeWidth":1.3},
 "encoding":{"x":{"datum":0.0277,"type":"quantitative"},"y":{"datum":0.795,"type":"quantitative"}}},
{"transform":[{"filter":"isValid(datum.leg)"}],
 "mark":{"type":"point","shape":"square","filled":true,"fill":"#0b6e0b","stroke":"#0b6e0b","size":75,"strokeWidth":1.3},
 "encoding":{"x":{"datum":0.0277,"type":"quantitative"},"y":{"datum":0.61,"type":"quantitative"}}},
{"transform":[{"filter":"isValid(datum.leg)"}],
 "mark":{"type":"text","text":"0.0 < Pₕ⊥[GeV] < 0.3","fontSize":9,"fontWeight":"bold","align":"left","baseline":"middle","font":"Liberation Sans"},
 "encoding":{"x":{"datum":0.0373,"type":"quantitative"},"y":{"datum":1.0,"type":"quantitative"}}},
{"transform":[{"filter":"isValid(datum.leg)"}],
 "mark":{"type":"text","text":"0.3 < Pₕ⊥[GeV] < 0.5","fontSize":9,"fontWeight":"bold","align":"left","baseline":"middle","font":"Liberation Sans"},
 "encoding":{"x":{"datum":0.0373,"type":"quantitative"},"y":{"datum":0.795,"type":"quantitative"}}},
{"transform":[{"filter":"isValid(datum.leg)"}],
 "mark":{"type":"text","text":"0.5 < Pₕ⊥[GeV] < 2.0","fontSize":9,"fontWeight":"bold","align":"left","baseline":"middle","font":"Liberation Sans"},
 "encoding":{"x":{"datum":0.0373,"type":"quantitative"},"y":{"datum":0.61,"type":"quantitative"}}}
]
}
}
